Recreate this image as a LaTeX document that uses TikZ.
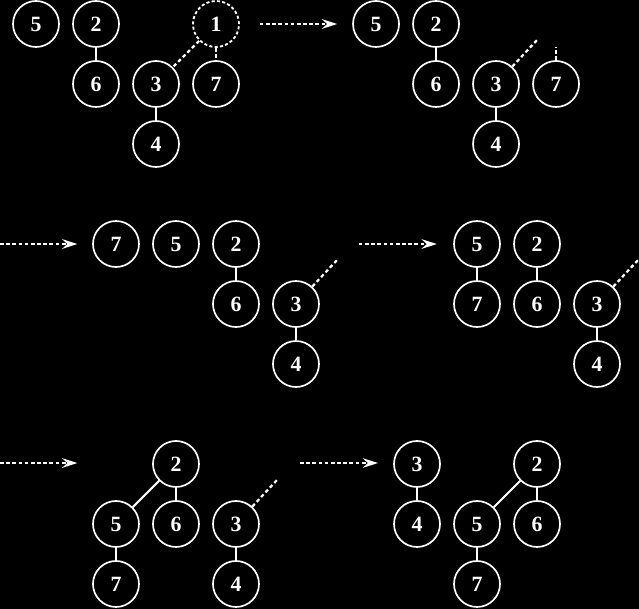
\documentclass[tikz,border=0pt]{standalone}
\usepackage{fontspec}
\setmainfont{Liberation Serif}
\usetikzlibrary{arrows.meta}

\begin{document}
\begin{tikzpicture}[
    x=1.5cm, y=1.5cm,
    vertex/.style={circle, draw=white, line width=1.2pt, minimum size=1.15cm, inner sep=0pt, text=white, font=\fontsize{15.5}{17}\selectfont\bfseries},
    gone/.style={vertex, line width=1.3pt, dash pattern=on 2.2pt off 1.6pt},
    link/.style={draw=white, line width=1.5pt},
    cutlink/.style={draw=white, line width=1.6pt, dash pattern=on 2.6pt off 2pt},
    move/.style={draw=white, line width=1.6pt, dash pattern=on 2.6pt off 1.8pt, -{Stealth[length=3.8mm, width=2.4mm, inset=1.3mm]}}
  ]

    \fill[black] (0,0) rectangle (10.65,-10.15);
    \useasboundingbox (0,0) rectangle (10.65,-10.15);

    % Start: root 1 is removed
    \begin{scope}[shift={(0.6,-0.4)}]
      \node[vertex] (a5) at (0,0) {5};
      \node[vertex] (a2) at (1,0) {2};
      \node[vertex] (a6) at (1,-1) {6};
      \node[vertex] (a3) at (2,-1) {3};
      \node[vertex] (a4) at (2,-2) {4};
      \node[gone] (a1) at (3,0) {1};
      \node[vertex] (a7) at (3,-1) {7};
      \draw[link] (a2) -- (a6);
      \draw[link] (a3) -- (a4);
      \draw[cutlink] (a1) -- (a3);
      \draw[cutlink] (a1) -- (a7);
    \end{scope}

    % Arrow
    \coordinate (m1s) at (4.33,-0.4);
    \coordinate (m1e) at (5.62,-0.4);
    \draw[move] (m1s) -- (m1e);

    % Children cut loose
    \begin{scope}[shift={(6.267,-0.4)}]
      \node[vertex] (b5) at (0,0) {5};
      \node[vertex] (b2) at (1,0) {2};
      \node[vertex] (b6) at (1,-1) {6};
      \node[vertex] (b3) at (2,-1) {3};
      \node[vertex] (b4) at (2,-2) {4};
      \node[vertex] (b7) at (3,-1) {7};
      \coordinate (b3s) at (2.7,-0.25);
      \coordinate (b7s) at (3,-0.38);
      \draw[link] (b2) -- (b6);
      \draw[link] (b3) -- (b4);
      \draw[cutlink] (b3) -- (b3s);
      \draw[cutlink] (b7) -- (b7s);
    \end{scope}

    % Arrow
    \coordinate (m2s) at (0,-4.067);
    \coordinate (m2e) at (1.29,-4.067);
    \draw[move] (m2s) -- (m2e);

    % Roots in one list
    \begin{scope}[shift={(1.933,-4.067)}]
      \node[vertex] (c7) at (0,0) {7};
      \node[vertex] (c5) at (1,0) {5};
      \node[vertex] (c2) at (2,0) {2};
      \node[vertex] (c6) at (2,-1) {6};
      \node[vertex] (c3) at (3,-1) {3};
      \node[vertex] (c4) at (3,-2) {4};
      \coordinate (c3s) at (3.7,-0.25);
      \draw[link] (c2) -- (c6);
      \draw[link] (c3) -- (c4);
      \draw[cutlink] (c3) -- (c3s);
    \end{scope}

    % Arrow
    \coordinate (m3s) at (5.98,-4.067);
    \coordinate (m3e) at (7.28,-4.067);
    \draw[move] (m3s) -- (m3e);

    % 7 linked under 5
    \begin{scope}[shift={(7.95,-4.067)}]
      \node[vertex] (d5) at (0,0) {5};
      \node[vertex] (d7) at (0,-1) {7};
      \node[vertex] (d2) at (1,0) {2};
      \node[vertex] (d6) at (1,-1) {6};
      \node[vertex] (d3) at (2,-1) {3};
      \node[vertex] (d4) at (2,-2) {4};
      \coordinate (d3s) at (2.7,-0.25);
      \draw[link] (d5) -- (d7);
      \draw[link] (d2) -- (d6);
      \draw[link] (d3) -- (d4);
      \draw[cutlink] (d3) -- (d3s);
    \end{scope}

    % Arrow
    \coordinate (m4s) at (0,-7.717);
    \coordinate (m4e) at (1.29,-7.717);
    \draw[move] (m4s) -- (m4e);

    % 5 linked under 2
    \begin{scope}[shift={(1.933,-8.733)}]
      \node[vertex] (e2) at (1,1) {2};
      \node[vertex] (e5) at (0,0) {5};
      \node[vertex] (e6) at (1,0) {6};
      \node[vertex] (e7) at (0,-1) {7};
      \node[vertex] (e3) at (2,0) {3};
      \node[vertex] (e4) at (2,-1) {4};
      \coordinate (e3s) at (2.7,0.75);
      \draw[link] (e2) -- (e5);
      \draw[link] (e2) -- (e6);
      \draw[link] (e5) -- (e7);
      \draw[link] (e3) -- (e4);
      \draw[cutlink] (e3) -- (e3s);
    \end{scope}

    % Arrow
    \coordinate (m5s) at (5.0,-7.717);
    \coordinate (m5e) at (6.3,-7.717);
    \draw[move] (m5s) -- (m5e);

    % Result
    \begin{scope}[shift={(6.95,-7.733)}]
      \node[vertex] (f3) at (0,0) {3};
      \node[vertex] (f4) at (0,-1) {4};
      \node[vertex] (f2) at (2,0) {2};
      \node[vertex] (f5) at (1,-1) {5};
      \node[vertex] (f6) at (2,-1) {6};
      \node[vertex] (f7) at (1,-2) {7};
      \draw[link] (f3) -- (f4);
      \draw[link] (f2) -- (f5);
      \draw[link] (f2) -- (f6);
      \draw[link] (f5) -- (f7);
    \end{scope}

  \end{tikzpicture}
\end{document}
